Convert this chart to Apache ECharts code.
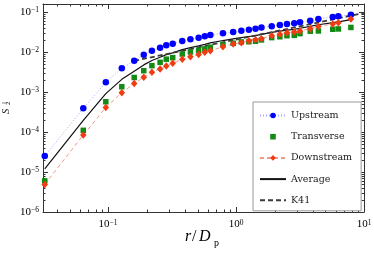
<!DOCTYPE html>
<html><head><meta charset="utf-8">
<script src="https://cdn.jsdelivr.net/npm/echarts@6/dist/echarts.min.js"></script>
<style>html,body{margin:0;padding:0;background:#fff}#c{width:374px;height:255px}</style>
</head><body><div id="c"></div>
<script>
const r = [0.032,0.064,0.096,0.128,0.16,0.19,0.22,0.255,0.285,0.32,0.38,0.44,0.51,0.57,0.63,0.79,0.95,1.1,1.26,1.42,1.58,1.9,2.2,2.5,2.85,3.16,3.8,4.4,5.7,6.3,7.9];
const upstream = [2.5e-5,3.9e-4,1.74e-3,3.9e-3,6.0e-3,8.5e-3,1.07e-2,1.28e-2,1.47e-2,1.6e-2,1.88e-2,2.08e-2,2.28e-2,2.47e-2,2.66e-2,2.93e-2,3.16e-2,3.4e-2,3.6e-2,3.8e-2,4.07e-2,4.4e-2,4.73e-2,5.0e-2,5.2e-2,5.5e-2,6.0e-2,6.7e-2,7.5e-2,7.8e-2,8.5e-2];
const transverse = [6.0e-6,1.1e-4,5.7e-4,1.35e-3,2.3e-3,3.4e-3,4.55e-3,5.5e-3,6.6e-3,7.2e-3,8.9e-3,1.0e-2,1.1e-2,1.19e-2,1.31e-2,1.52e-2,1.65e-2,1.78e-2,1.8e-2,1.85e-2,2.0e-2,2.28e-2,2.4e-2,2.55e-2,2.6e-2,2.87e-2,3.3e-2,3.35e-2,3.7e-2,3.76e-2,4.1e-2];
const downstream = [4.9e-6,8.4e-5,4.1e-4,9.6e-4,1.62e-3,2.34e-3,3.1e-3,3.76e-3,4.47e-3,5.2e-3,6.6e-3,7.6e-3,8.7e-3,9.8e-3,1.07e-2,1.35e-2,1.58e-2,1.7e-2,1.9e-2,2.03e-2,2.15e-2,2.55e-2,2.77e-2,3.03e-2,3.16e-2,3.35e-2,3.82e-2,4.3e-2,5.0e-2,5.4e-2,6.7e-2];
const average = [1.2e-5,1.95e-4,9.1e-4,2.07e-3,3.31e-3,4.75e-3,6.12e-3,7.35e-3,8.59e-3,9.47e-3,1.14e-2,1.28e-2,1.42e-2,1.55e-2,1.68e-2,1.93e-2,2.13e-2,2.29e-2,2.43e-2,2.56e-2,2.74e-2,3.08e-2,3.3e-2,3.53e-2,3.65e-2,3.91e-2,4.37e-2,4.78e-2,5.4e-2,5.65e-2,6.43e-2];
const k41R = [0.16, 1, 10];
const k41 = [6.0e-3, 2.04e-2, 9.45e-2];
const xMinorTicks = [0.04,0.05,0.06,0.07,0.08,0.09,0.2,0.3,0.4,0.5,0.6,0.7,0.8,0.9,2,3,4,5,6,7,8,9];
const yMinorTicks = [2e-6,3e-6,4e-6,5e-6,6e-6,7e-6,8e-6,9e-6,2e-5,3e-5,4e-5,5e-5,6e-5,7e-5,8e-5,9e-5,2e-4,3e-4,4e-4,5e-4,6e-4,7e-4,8e-4,9e-4,2e-3,3e-3,4e-3,5e-3,6e-3,7e-3,8e-3,9e-3,2e-2,3e-2,4e-2,5e-2,6e-2,7e-2,8e-2,9e-2];

const chart = echarts.init(document.getElementById('c'), null, {renderer: 'canvas'});
const AX = '#333';
function pow10Label(v) {
  const e = Math.log10(v); const n = Math.round(e);
  if (Math.abs(e - n) > 1e-6) return '';
  return '{b|10}{e|' + (n < 0 ? '\u2212' : '') + Math.abs(n) + '}';
}
const richLab = {
  b: {fontFamily: 'Liberation Serif', fontSize: 11, color: '#000'},
  e: {fontFamily: 'Liberation Serif', fontSize: 7.5, color: '#000', verticalAlign: 'top'}
};
function axisBase(extra) {
  return Object.assign({
    type: 'log', logBase: 10,
    axisLine: {show: true, onZero: false, lineStyle: {color: AX, width: 1}},
    axisTick: {show: true, inside: true, length: 5, lineStyle: {color: AX, width: 1}},
    minorTick: {show: false},
    splitLine: {show: false}
  }, extra);
}
function tickSeries(vals, isX) {
  return {
    type: 'custom', silent: true, z: 3, clip: false,
    xAxisIndex: 0, yAxisIndex: 0,
    data: vals.map(v => isX ? [v, 1e-3] : [1, v]),
    renderItem(params, api) {
      const cs = params.coordSys;
      const p = api.coord([api.value(0), api.value(1)]);
      const style = {stroke: AX, lineWidth: 1};
      const L = 2.5;
      if (isX) {
        const x = Math.round(p[0]) + 0.5;
        return {type: 'group', children: [
          {type: 'line', shape: {x1: x, y1: cs.y + cs.height, x2: x, y2: cs.y + cs.height - L}, style},
          {type: 'line', shape: {x1: x, y1: cs.y, x2: x, y2: cs.y + L}, style}
        ]};
      }
      const y = Math.round(p[1]) + 0.5;
      return {type: 'group', children: [
        {type: 'line', shape: {x1: cs.x, y1: y, x2: cs.x + L, y2: y}, style},
        {type: 'line', shape: {x1: cs.x + cs.width, y1: y, x2: cs.x + cs.width - L, y2: y}, style}
      ]};
    }
  };
}
function txt(x, y, s, size, italic, family) {
  return {type: 'text', x, y, silent: true, style: {text: s, fontFamily: family || 'Liberation Serif',
    fontStyle: italic ? 'italic' : 'normal', fontSize: size, fill: '#000', align: 'left', verticalAlign: 'middle'}};
}
function ctxt(x, y, s, size, italic, family) {
  const t = txt(x, y, s, size, italic, family); t.style.align = 'center'; return t;
}
const option = {
  animation: false,
  backgroundColor: '#fff',
  grid: {left: 43, right: 10, top: 4, bottom: 43, outerBoundsMode: 'none', containLabel: false},
  xAxis: [
    axisBase({min: 0.031, max: 10, position: 'bottom',
      axisLabel: {show: true, margin: 7, formatter: pow10Label, rich: richLab, showMinLabel: false}}),
    axisBase({min: 0.031, max: 10, position: 'top', axisLabel: {show: false}})
  ],
  yAxis: [
    axisBase({min: 1e-6, max: 0.158, position: 'left',
      axisLabel: {show: true, margin: 4, formatter: pow10Label, rich: richLab, showMaxLabel: false}}),
    axisBase({min: 1e-6, max: 0.158, position: 'right', axisLabel: {show: false}})
  ],
  legend: {
    show: true, orient: 'vertical', left: 253, top: 102,
    padding: [8.5, 9, 5.5, 6], itemGap: 11.2, itemWidth: 26, itemHeight: 7,
    backgroundColor: '#fff', borderColor: '#999', borderWidth: 1, borderRadius: 0,
    textStyle: {fontFamily: 'DejaVu Serif', fontSize: 9.5, color: '#222'},
    selectedMode: false,
    data: [
      {name: 'Upstream'},
      {name: 'Transverse', lineStyle: {opacity: 0}},
      {name: 'Downstream'},
      {name: 'Average', itemStyle: {opacity: 0}},
      {name: 'K41', itemStyle: {opacity: 0}}
    ]
  },
  graphic: [
    {type: 'group', x: 6, y: 111.3, rotation: Math.PI / 2, silent: true, children: [
      ctxt(0, 0, 'S', 10.5, true),
      ctxt(8, 2.2, '2', 6.5, false),
      ctxt(8.5, -1.6, '\u2225', 5, false, 'DejaVu Sans')
    ]},
    {type: 'group', x: 0, y: 0, silent: true, children: [
      txt(185, 237, 'r', 16, true),
      txt(192, 237, '/', 16, false),
      txt(199, 237, 'D', 16, true),
      txt(214, 243.5, 'p', 10, false)
    ]}
  ],
  series: [
    tickSeries(xMinorTicks, true),
    tickSeries(yMinorTicks, false),
    {name: 'Upstream', type: 'line', data: r.map((x, i) => [x, upstream[i]]),
      symbol: 'circle', symbolSize: 6.5, showSymbol: true, z: 4,
      itemStyle: {color: '#0000ff', borderWidth: 0},
      lineStyle: {color: '#a5a5ff', width: 1, type: [1, 2]}, emphasis: {disabled: true}},
    {name: 'Transverse', type: 'line', data: r.map((x, i) => [x, transverse[i]]),
      symbol: 'rect', symbolSize: 5.5, showSymbol: true, z: 4,
      itemStyle: {color: '#138a13', borderWidth: 0},
      lineStyle: {opacity: 0, width: 0}, emphasis: {disabled: true}},
    {name: 'Downstream', type: 'line', data: r.map((x, i) => [x, downstream[i]]),
      symbol: 'diamond', symbolSize: [6.5, 7.5], showSymbol: true, z: 4,
      itemStyle: {color: '#f03c12', borderWidth: 0},
      lineStyle: {color: '#f39a86', width: 1, type: [4, 3]}, emphasis: {disabled: true}},
    {name: 'Average', type: 'line', data: r.map((x, i) => [x, average[i]]),
      symbol: 'circle', showSymbol: false, z: 4,
      itemStyle: {color: '#000'},
      lineStyle: {color: '#111', width: 1.2, type: 'solid'}, emphasis: {disabled: true}},
    {name: 'K41', type: 'line', data: k41R.map((x, i) => [x, k41[i]]),
      symbol: 'circle', showSymbol: false, z: 4,
      itemStyle: {color: '#333'},
      lineStyle: {color: '#3a3a3a', width: 1.8, type: [5, 3]}, emphasis: {disabled: true}}
  ]
};
chart.setOption(option);
</script></body></html>
